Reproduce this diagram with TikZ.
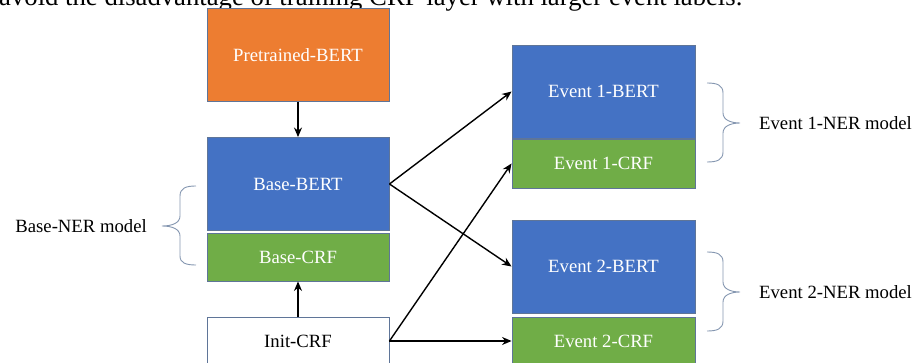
\documentclass[tikz,border=0pt]{standalone}
\usepackage{fontspec}
\setmainfont{Liberation Serif}
\usetikzlibrary{arrows.meta}
\definecolor{bblue}{HTML}{4472C4}
\definecolor{borange}{HTML}{ED7D31}
\definecolor{bgreen}{HTML}{70AD47}
\definecolor{bedge}{HTML}{5F7598}
\definecolor{brc}{HTML}{8496B0}
\tikzset{
  box/.style={draw=bedge, line width=0.9pt, inner sep=0pt, minimum width=182pt, text=white,
    font=\fontsize{18.7}{20}\selectfont},
  bluebox/.style={box, fill=bblue, minimum height=93pt},
  greenbox/.style={box, fill=bgreen, minimum height=48pt},
  orangebox/.style={box, fill=borange, minimum height=93pt},
  whitebox/.style={box, fill=white, text=black, minimum height=48pt},
  conn/.style={line width=1.4pt, -{Stealth[length=9.5pt,width=8pt]}},
  brace/.style={draw=brc, line width=0.9pt},
  lbl/.style={font=\fontsize{18.7}{20}\selectfont, inner sep=0pt}
}
\begin{document}
\begin{tikzpicture}[x=1pt,y=-1pt]
\useasboundingbox (0,0) rectangle (917,363);
\node[anchor=base west, inner sep=0pt, font=\fontsize{26.7}{30}\selectfont] (top) at (-1,6) {avoid the disadvantage of training CRF layer with larger event labels.};

\node[orangebox] (pre) at (298,55) {Pretrained-BERT};
\node[bluebox] (bbert) at (298,184) {Base-BERT};
\node[greenbox] (bcrf) at (298,257) {Base-CRF};
\node[whitebox] (init) at (298,341) {Init-CRF};

\node[bluebox, minimum width=183pt] (e1bert) at (603.5,91.5) {Event 1-BERT};
\node[greenbox, minimum width=183pt, minimum height=49pt] (e1crf) at (603.5,163.5) {Event 1-CRF};
\node[bluebox, minimum width=183pt] (e2bert) at (603.5,266.5) {Event 2-BERT};
\node[greenbox, minimum width=183pt] (e2crf) at (603.5,341) {Event 2-CRF};

\draw[conn] (pre.south) -- (bbert.north);
\draw[conn] (init.north) -- (bcrf.south);
\draw[conn] (bbert.east) -- (e1bert.west);
\draw[conn] (bbert.east) -- (e2bert.west);
\draw[conn] (init.east) -- (e1crf.west);
\draw[conn] (init.east) -- (e2crf.west);

% braces
\draw[brace] (196,186) .. controls (186,186) and (180,188) .. (180,196) -- (180,216)
  .. controls (180,223) and (172,226) .. (162,226)
  .. controls (172,226) and (180,229) .. (180,236) -- (180,256)
  .. controls (180,263) and (186,265) .. (196,265);
\draw[brace] (707,83) .. controls (717,83) and (723,85) .. (723,93) -- (723,113)
  .. controls (723,120) and (731,123) .. (740,123)
  .. controls (731,123) and (723,126) .. (723,133) -- (723,152)
  .. controls (723,160) and (717,162) .. (707,162);
\draw[brace] (707,252) .. controls (717,252) and (723,254) .. (723,262) -- (723,282)
  .. controls (723,289) and (731,292) .. (740,292)
  .. controls (731,292) and (723,295) .. (723,302) -- (723,321)
  .. controls (723,329) and (717,331) .. (707,331);

\node[lbl, anchor=east] (bl) at (147,226) {Base-NER model};
\node[lbl, anchor=west] (e1l) at (759,123) {Event 1-NER model};
\node[lbl, anchor=west] (e2l) at (759,292) {Event 2-NER model};
\end{tikzpicture}
\end{document}
